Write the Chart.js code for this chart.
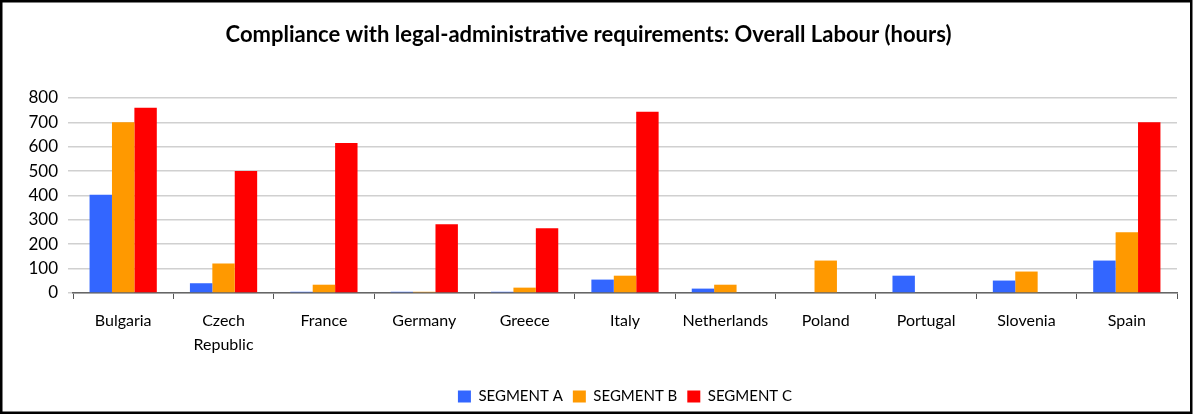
<!DOCTYPE html>
<html>
<head>
<meta charset="utf-8">
<script src="https://cdn.jsdelivr.net/npm/chart.js@4/dist/chart.umd.min.js"></script>
<style>
    html, body { margin: 0; padding: 0; background: #fff; }
    #wrap { position: relative; width: 1195px; height: 416px; }
</style>
</head>
<body>
<div id="wrap"><canvas id="labourChart" width="1195" height="416"></canvas></div>
<script>
// ---- DATA ----
const countries = ["Bulgaria", ["Czech", "Republic"], "France", "Germany", "Greece", "Italy",
    "Netherlands", "Poland", "Portugal", "Slovenia", "Spain"];
const segmentA = [403, 40, 5, 5, 5, 55, 18, 0, 71, 51, 133];
const segmentB = [700, 121, 34, 5, 22, 71, 34, 133, 0, 88, 249];
const segmentC = [760, 500, 615, 282, 266, 743, 0, 0, 0, 0, 700];
const yTicks = [0, 100, 200, 300, 400, 500, 600, 700, 800];

const FONT = "Lato, 'Open Sans', sans-serif";

// draws the black frame round the whole chart
const framePlugin = {
    id: "frame",
    afterDraw(chart) {
        const ctx = chart.ctx;
        ctx.save();
        ctx.strokeStyle = "#000";
        ctx.lineWidth = 2.5;
        ctx.strokeRect(1.25, 1.25, 1190, 411.5);
        ctx.restore();
    }
};

const ctx = document.getElementById("labourChart").getContext("2d");
new Chart(ctx, {
    type: "bar",
    data: {
        labels: countries,
        datasets: [
            { label: "SEGMENT A", data: segmentA, backgroundColor: "#3366FF" },
            { label: "SEGMENT B", data: segmentB, backgroundColor: "#FF9900" },
            { label: "SEGMENT C", data: segmentC, backgroundColor: "#FF0000" }
        ]
    },
    options: {
        responsive: false,
        animation: false,
        devicePixelRatio: 1,
        categoryPercentage: 0.67,
        barPercentage: 1.0,
        layout: { padding: { left: 0, right: 18, top: 22, bottom: 2 } },
        plugins: {
            title: {
                display: true,
                text: "Compliance with legal-administrative requirements: Overall Labour (hours)",
                color: "#000",
                font: { family: FONT, size: 22, weight: "bold" },
                padding: { top: 0, bottom: 49.5 }
            },
            legend: {
                position: "bottom",
                fullSize: false,
                labels: {
                    color: "#000",
                    font: { family: FONT, size: 15 },
                    boxWidth: 13,
                    boxHeight: 12,
                    padding: 10
                }
            },
            tooltip: { enabled: false }
        },
        scales: {
            x: {
                afterFit: (scale) => { scale.height = 86; },
                grid: {
                    offset: true,
                    drawOnChartArea: false,
                    drawTicks: true,
                    tickLength: 6,
                    color: "#555"
                },
                border: { display: true, color: "#666", width: 1.5 },
                ticks: {
                    color: "#000",
                    maxRotation: 0,
                    autoSkip: false,
                    padding: 10,
                    font: { family: FONT, size: 16, lineHeight: 1.5 }
                }
            },
            y: {
                min: 0,
                max: 800,
                afterFit: (scale) => { scale.width = 73; },
                afterBuildTicks: (scale) => { scale.ticks = yTicks.map(v => ({ value: v })); },
                grid: { color: "#d0d0d0", lineWidth: 1.5, tickLength: 5 },
                border: { display: false },
                ticks: {
                    color: "#000",
                    padding: 10,
                    font: { family: FONT, size: 17 }
                }
            }
        }
    },
    plugins: [framePlugin]
});
</script>
</body>
</html>
